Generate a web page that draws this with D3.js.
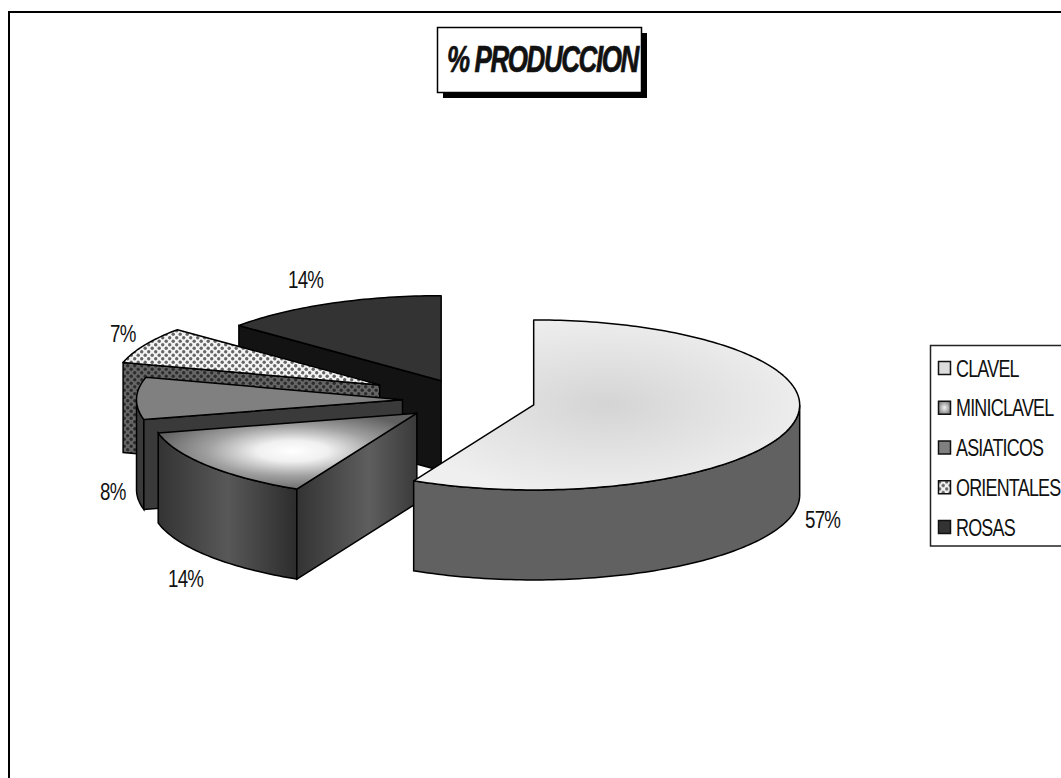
<!DOCTYPE html>
<html>
<head>
  <meta charset="utf-8"/>
  <title>% PRODUCCION</title>
  <style>
    html, body { margin: 0; padding: 0; background: #fff; overflow: hidden; }
    svg { display: block; }
    text { font-family: "Liberation Sans", Arial, sans-serif; fill: #111; }
  </style>
</head>
<body>
<div id="graph"></div>
<script src="https://d3js.org/d3.v7.min.js"></script>
<script>
    //Chart data
    var categories = ["CLAVEL", "MINICLAVEL", "ASIATICOS", "ORIENTALES", "ROSAS"];
    var percents = [57.45, 13.8, 8, 7, 13.75];
    var percentLabels = ["57%", "14%", "8%", "7%", "14%"];
    var explosion = [25, 25, 25, 38, 25];
    var titleText = "% PRODUCCION";

    var width = 1061, height = 778;
    var cx = 469, cy = 400, rx = 266, ry = 85, depth = 90;

    var svg = d3.select("#graph").append("svg")
                .attr("width", width)
                .attr("height", height);
    var defs = svg.append("defs");

    // unit circle to page
    var x = d3.scaleLinear().domain([-1, 1]).range([cx - rx, cx + rx]);
    var y = d3.scaleLinear().domain([-1, 1]).range([cy - ry, cy + ry]);
    var line = d3.line();

    var pie = d3.pie().sort(null).value(function(d) { return d; });
    var slices = pie(percents);

    // fills
    function radial(id, stops, o) {
      var g = defs.append("radialGradient").attr("id", id);
      for (var k in o) g.attr(k, o[k]);
      stops.forEach(function(s) {
        g.append("stop").attr("offset", s[0]).attr("stop-color", s[1]);
      });
    }
    function linear(id, stops) {
      var g = defs.append("linearGradient").attr("id", id);
      stops.forEach(function(s) {
        g.append("stop").attr("offset", s[0]).attr("stop-color", s[1]);
      });
    }
    radial("clavelTop", [[0, "#d4d4d4"], [0.5, "#e2e2e2"], [1, "#efefef"]], {cx: 0.5, cy: 0.5, r: 0.55});
    radial("miniTop", [[0, "#ffffff"], [0.25, "#f0f0f0"], [0.6, "#a0a0a0"], [1, "#606060"]],
           {cx: 0.52, cy: 0.5, r: 0.55});
    radial("miniSwatch", [[0, "#f4f4f4"], [1, "#777777"]], {cx: 0.5, cy: 0.5, r: 0.6});
    linear("miniWall", [[0, "#333333"], [0.5, "#585858"], [1, "#2c2c2c"]]);
    linear("miniCut", [[0, "#333333"], [0.6, "#5e5e5e"], [1, "#3a3a3a"]]);

    function dotted(id, bg, dot) {
      var p = defs.append("pattern").attr("id", id)
                  .attr("patternUnits", "userSpaceOnUse")
                  .attr("width", 7).attr("height", 7);
      p.append("rect").attr("width", 7).attr("height", 7).attr("fill", bg);
      p.append("circle").attr("cx", 1.7).attr("cy", 1.7).attr("r", 1.7).attr("fill", dot);
      p.append("circle").attr("cx", 5.2).attr("cy", 5.2).attr("r", 1.7).attr("fill", dot);
    }
    dotted("orientTop", "#f4f4f4", "#666666");
    dotted("orientWall", "#666666", "#2c2c2c");

    var topFill = ["url(#clavelTop)", "url(#miniTop)", "#808080", "url(#orientTop)", "#333333"];
    var wallFill = ["#616161", "url(#miniWall)", "#3a3a3a", "url(#orientWall)", "#131313"];
    var cutFill = ["#616161", "url(#miniCut)", "#3a3a3a", "url(#orientWall)", "#131313"];
    var legendFill = ["#dcdcdc", "url(#miniSwatch)", "#808080", "url(#orientTop)", "#333333"];

    function px(a, off) { return x(Math.sin(a) + off.dx); }
    function py(a, off) { return y(-Math.cos(a) + off.dy); }

    function arcPoints(a0, a1, off, drop) {
      var n = Math.max(2, Math.ceil((a1 - a0) / 0.02));
      return d3.range(n + 1).map(function(i) {
        var a = a0 + (a1 - a0) * i / n;
        return [px(a, off), py(a, off) + drop];
      });
    }

    var HALF = Math.PI / 2;

    // back to front: last slice first
    var order = d3.range(slices.length).reverse();
    var groups = svg.selectAll("g.slice").data(order).enter().append("g").attr("class", "slice");

    groups.each(function(i) {
      var g = d3.select(this), s = slices[i];
      var mid = (s.startAngle + s.endAngle) / 2;
      var off = {dx: Math.sin(mid) * explosion[i] / 100, dy: -Math.cos(mid) * explosion[i] / 100};
      var apex = [x(off.dx), y(off.dy)];

      // outer wall, only the part that faces us
      var w0 = Math.max(s.startAngle, HALF), w1 = Math.min(s.endAngle, 3 * HALF);
      if (w1 > w0) {
        var upper = arcPoints(w0, w1, off, 0), lower = arcPoints(w0, w1, off, depth).reverse();
        g.append("path").attr("d", line(upper.concat(lower)) + "Z")
         .attr("fill", wallFill[i]).attr("stroke", "#000").attr("stroke-width", 1.5);
      }
      // cut wall at the start of the slice
      if (s.startAngle >= Math.PI) {
        var p = [px(s.startAngle, off), py(s.startAngle, off)];
        g.append("path")
         .attr("d", line([p, apex, [apex[0], apex[1] + depth], [p[0], p[1] + depth]]) + "Z")
         .attr("fill", cutFill[i]).attr("stroke", "#000").attr("stroke-width", 1.5);
      }
      // top face
      var topPts = [apex].concat(arcPoints(s.startAngle, s.endAngle, off, 0));
      g.append("path").attr("d", line(topPts) + "Z")
       .attr("fill", topFill[i]).attr("stroke", "#000").attr("stroke-width", 1.5)
       .attr("stroke-linejoin", "round");
    });

    // percent labels, the original text is very narrow
    var labelPos = [[805, 528], [168, 587], [100, 500], [110, 342], [288, 288]];
    svg.selectAll("text.pct").data(percentLabels).enter().append("text")
       .attr("class", "pct")
       .attr("font-size", 24)
       .attr("letter-spacing", -1)
       .attr("transform", function(d, i) {
         return "translate(" + labelPos[i][0] + "," + labelPos[i][1] + ") scale(0.78,1)";
       })
       .text(function(d) { return d; });

    // frame
    svg.append("rect").attr("x", 9).attr("y", 12).attr("width", 1080).attr("height", 800)
       .attr("fill", "none").attr("stroke", "#000").attr("stroke-width", 2);

    // title
    svg.append("rect").attr("x", 443).attr("y", 33).attr("width", 204).attr("height", 65).attr("fill", "#000");
    svg.append("rect").attr("x", 437.5).attr("y", 27.5).attr("width", 204).attr("height", 65)
       .attr("fill", "#fff").attr("stroke", "#000").attr("stroke-width", 1.5);
    svg.append("text")
       .attr("transform", "translate(447,72) scale(0.723,1)")
       .attr("font-size", 36).attr("font-weight", "bold").attr("font-style", "italic")
       .attr("letter-spacing", -2)
       .attr("stroke", "#111").attr("stroke-width", 0.7)
       .text(titleText);

    // legend
    svg.append("rect").attr("x", 930.5).attr("y", 345.5).attr("width", 140).attr("height", 200.5)
       .attr("fill", "#fff").attr("stroke", "#222").attr("stroke-width", 1.5);
    var legendY = d3.scalePoint().domain(categories).range([368, 527]);
    var items = svg.selectAll("g.item").data(categories).enter().append("g").attr("class", "item")
       .attr("transform", function(d) { return "translate(0," + legendY(d) + ")"; });
    items.append("rect").attr("x", 938.5).attr("y", -6.5).attr("width", 12).attr("height", 13)
       .attr("fill", function(d, i) { return legendFill[i]; })
       .attr("stroke", "#111").attr("stroke-width", 1.5);
    items.append("text")
       .attr("transform", "translate(956,8.5) scale(0.78,1)")
       .attr("font-size", 23)
       .attr("letter-spacing", -1)
       .text(function(d) { return d; });
</script>
</body>
</html>
